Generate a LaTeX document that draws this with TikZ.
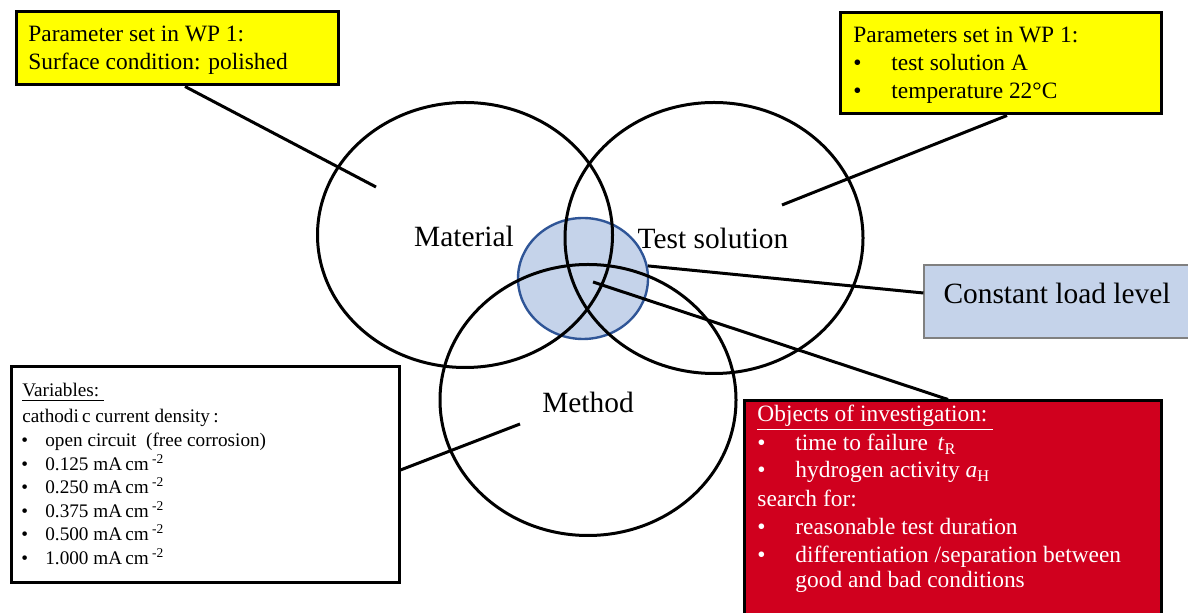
\documentclass[tikz,border=0pt]{standalone}
\usepackage{fontspec}
\setmainfont{Liberation Serif}
\usetikzlibrary{shapes.geometric}

\definecolor{wpyellow}{RGB}{255,255,0}
\definecolor{probered}{RGB}{208,0,30}
\definecolor{loadblue}{RGB}{197,211,234}
\definecolor{coreedge}{RGB}{47,85,151}

\begin{document}
\begin{tikzpicture}[x=0.5pt, y=-0.5pt,
    venn/.style={ellipse, draw, line width=1.5pt, inner sep=0pt},
    frame/.style={rectangle, draw, line width=1.5pt, inner sep=0pt},
    link/.style={line width=1.5pt},
    big/.style={font=\fontsize{14.7}{17}\selectfont, inner sep=0pt},
    txt/.style={font=\fontsize{11.7}{14}\selectfont, anchor=base west, inner sep=0pt},
    small/.style={font=\fontsize{9.6}{12}\selectfont, anchor=base west, inner sep=0pt}]
  \useasboundingbox (0,0) rectangle (1188,613);
  \clip (0,0) rectangle (1188,613);
  \fill[white] (0,0) rectangle (1188,613);

  % overlap of the three fields
  \node[ellipse, draw=coreedge, fill=loadblue, line width=1.2pt, inner sep=0pt,
        minimum width=65pt, minimum height=60.5pt] (core) at (583,278.5) {};

  % the three fields
  \node[venn, minimum width=147.5pt, minimum height=132.5pt] (material) at (465,235) {};
  \node[venn, minimum width=149pt, minimum height=135.5pt] (solution) at (714,238) {};
  \node[venn, minimum width=148pt, minimum height=135.5pt] (method) at (588,400) {};
  \node[big] (matlabel) at (464,236) {Material};
  \node[big] (sollabel) at (713,238) {Test solution};
  \node[big] (metlabel) at (588,402) {Method};

  % WP 1 settings, material
  \node[frame, fill=wpyellow, minimum width=161pt, minimum height=36.5pt] (wpmat) at (177,48.5) {};
  \node[txt] (wpmat1) at (28,42) {Parameter set in WP 1:};
  \node[txt] (wpmat2) at (28,70) {Surface condition: polished};

  % WP 1 settings, test solution
  \node[frame, fill=wpyellow, minimum width=160.5pt, minimum height=50.5pt] (wpsol) at (1000.5,63.5) {};
  \node[txt] (wpsol0) at (853,43) {Parameters set in WP 1:};
  \foreach \t [count=\i] in {test solution A, temperature 22°C} {
    \node[txt] (wpsolb\i) at (853,43+28*\i) {\textbullet};
    \node[txt] (wpsol\i) at (891,43+28*\i) {\t};
  }

  % load
  \node[rectangle, draw=gray, fill=loadblue, line width=0.6pt, inner sep=0pt,
        minimum width=134pt, minimum height=36.5pt] (load) at (1058,301.5) {};
  \node[big] (loadlabel) at (1057,293) {Constant load level};

  % variables of the method
  \node[frame, fill=white, minimum width=194pt, minimum height=108pt] (vars) at (205,475) {};
  \node[small] (vars0) at (22,397) {\underline{Variables:\ }};
  \node[small] (vars1) at (22,423) {cathodi\,c current density\,:};
  \node[small] (varsb0) at (21,447) {\textbullet};
  \node[small] (varsi0) at (45,447) {open circuit\enspace(free corrosion)};
  \foreach \j [count=\i] in {0.125,0.250,0.375,0.500,1.000} {
    \node[small] (varsb\i) at (21,447+23.5*\i) {\textbullet};
    \node[small] (varsi\i) at (45,447+23.5*\i) {\j\ mA\,cm\,\textsuperscript{-2}};
  }

  % objects of investigation
  \node[frame, fill=probered, minimum width=208.5pt, minimum height=115pt] (probe) at (952.5,516) {};
  \begin{scope}[every node/.append style={text=white}]
    \node[txt] (probe0) at (757,422) {\underline{Objects of investigation:\ }};
    \node[txt] (probeb1) at (757,451) {\textbullet};
    \node[txt] (probe1) at (795,451) {time to failure \,\textit{t}\textsubscript{R}};
    \node[txt] (probeb2) at (757,478) {\textbullet};
    \node[txt] (probe2) at (795,478) {hydrogen activity \textit{a}\textsubscript{H}};
    \node[txt] (probe3) at (757,507) {search for:};
    \node[txt] (probeb4) at (757,535) {\textbullet};
    \node[txt] (probe4) at (795,535) {reasonable test duration};
    \node[txt] (probeb5) at (757,563) {\textbullet};
    \node[txt] (probe5) at (795,563) {differentiation /separation between};
    \node[txt] (probe6) at (795,588) {good and bad conditions};
  \end{scope}

  % connectors
  \coordinate (matpt) at (376,187);
  \coordinate (solpt) at (782,205);
  \coordinate (corept) at (593,282);
  \coordinate (metpt) at (520,424);
  \draw[link] ([xshift=4pt]wpmat.south) -- (matpt);
  \draw[link] ([xshift=3.25pt]wpsol.south) -- (solpt);
  \draw[link] (core.11) -- ([yshift=4.25pt]load.west);
  \draw[link] (corept) -- ([xshift=-2.25pt]probe.north);
  \draw[link] ([yshift=2.5pt]vars.east) -- (metpt);
\end{tikzpicture}
\end{document}
